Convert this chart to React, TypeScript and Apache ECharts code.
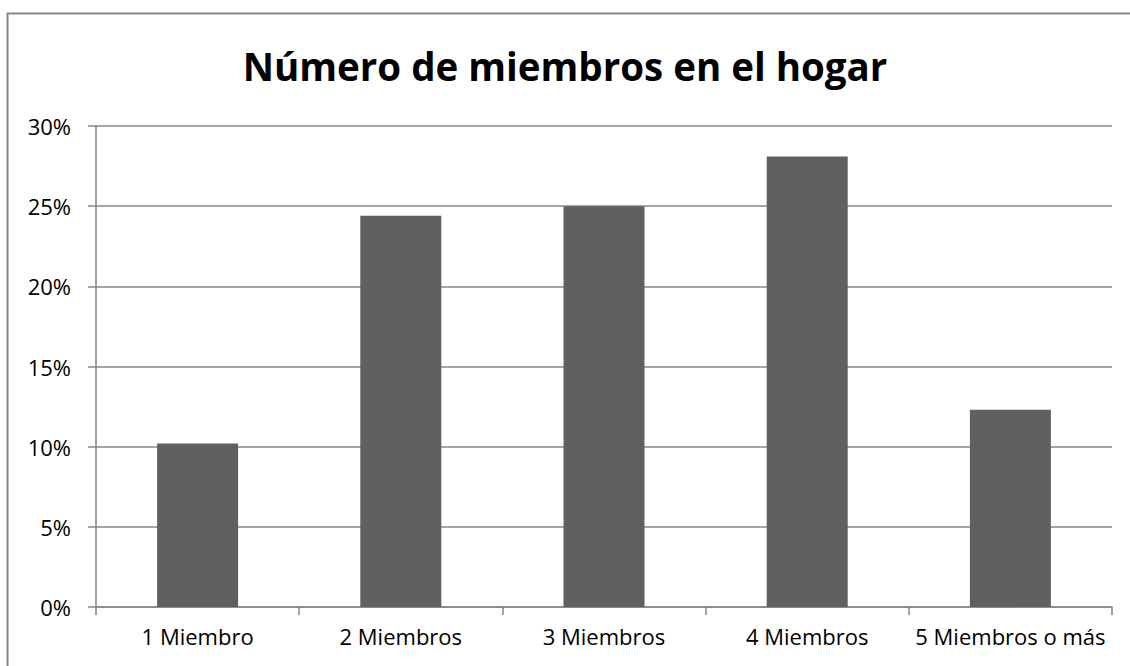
import React, { useEffect, useRef } from "react";
import * as echarts from "echarts";

const categories = ["1 Miembro", "2 Miembros", "3 Miembros", "4 Miembros", "5 Miembros o más"];
const values = [10.2, 24.4, 25.0, 28.1, 12.3];
const titleText = "Número de miembros en el hogar";

export default function App() {
  const ref = useRef<HTMLDivElement>(null);
  useEffect(() => {
    if (!ref.current) return;
    const chart = echarts.init(ref.current, null, { renderer: "svg" });
    const font = "'Open Sans', 'Liberation Sans', sans-serif";
    chart.setOption({
      animation: false,
      backgroundColor: "#ffffff",
      title: {
        text: titleText,
        left: "center",
        top: 41,
        textStyle: { fontFamily: font, fontWeight: "bold", fontSize: 38.5, color: "#000000" },
      },
      graphic: [
        {
          type: "rect",
          shape: { x: 7.5, y: 13.5, width: 1200, height: 800 },
          style: { fill: "none", stroke: "#868686", lineWidth: 2 },
          silent: true,
          z: 100,
        },
      ],
      grid: { left: 96, right: 18, top: 126, bottom: 59, containLabel: false },
      xAxis: {
        type: "category",
        data: categories,
        axisLine: { lineStyle: { color: "#868686", width: 1.5 } },
        axisTick: { show: true, length: 8, interval: 0, alignWithLabel: false, lineStyle: { color: "#868686", width: 1.5 } },
        axisLabel: { color: "#000000", fontFamily: font, fontSize: 22, margin: 18, interval: 0, hideOverlap: false },
      },
      yAxis: {
        type: "value",
        min: 0,
        max: 30,
        interval: 5,
        axisLine: { show: true, lineStyle: { color: "#868686", width: 1.5 } },
        axisTick: { show: true, length: 8, lineStyle: { color: "#868686", width: 1.5 } },
        axisLabel: { color: "#000000", fontFamily: font, fontSize: 22, margin: 25, formatter: "{value}%" },
        splitLine: { show: true, lineStyle: { color: "#868686", width: 1.5 } },
      },
      series: [
        {
          type: "bar",
          data: values,
          barWidth: 81,
          itemStyle: { color: "#606060" },
        },
      ],
    });
    return () => chart.dispose();
  }, []);
  return (
    <div
      ref={ref}
      style={{ position: "absolute", left: 0, top: 0, width: 1130, height: 666 }}
    />
  );
}
